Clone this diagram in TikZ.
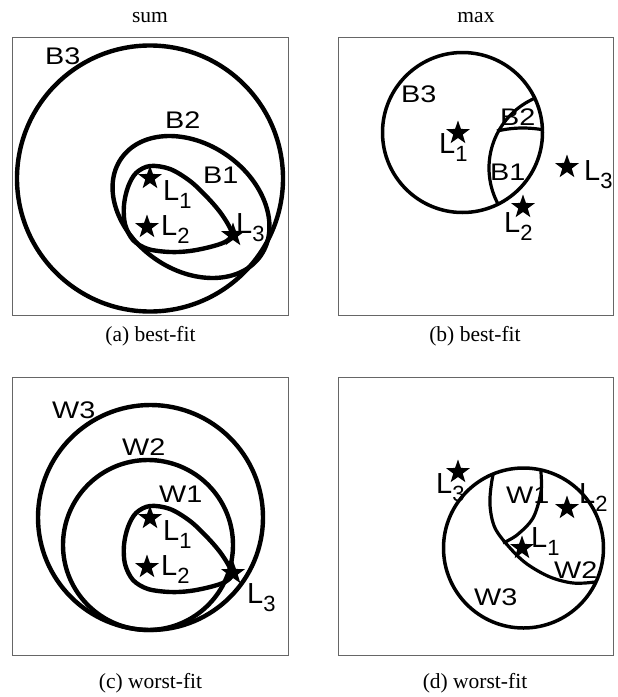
\documentclass[tikz,border=0pt]{standalone}
\usepackage{fontspec}
\setmainfont{Liberation Serif}
\newfontfamily\labfont[FakeStretch=1.2]{Liberation Sans}
\newfontfamily\Lfont{Liberation Sans}
\usetikzlibrary{shapes.geometric}
\newcommand{\Lsub}[1]{{\Lfont\fontsize{29}{29}\selectfont L}\raisebox{-8pt}{\Lfont\fontsize{22}{22}\selectfont #1}}
\tikzset{
 frame/.style={draw=black!60, line width=1pt},
 ring/.style={line width=4.4pt},
 thinring/.style={line width=3.5pt},
 starmark/.style={star, star points=5, star point ratio=2.5, fill=black, inner sep=0pt, minimum size=25pt, draw=none},
 lab/.style={anchor=base west, inner sep=0pt, font=\labfont\fontsize{24}{24}\selectfont},
 llab/.style={anchor=base west, inner sep=0pt},
 captxt/.style={anchor=base, inner sep=0pt, font=\fontsize{21.5}{21.5}\selectfont},
}
\begin{document}
\begin{tikzpicture}[x=1pt, y=-1pt]
\useasboundingbox (0,0) rectangle (618,697);
% titles
\node[captxt] (tsum) at (150,22) {sum};
\node[captxt] (tmax) at (476,22) {max};
% ---------- panel a
\draw[frame] (12,37) rectangle (288,315);
\draw[ring] (150,178.5) circle[radius=133pt];
\draw[ring] (191,207) circle[x radius=85pt, y radius=63pt, rotate=-35];
\draw[ring] plot[smooth cycle, tension=0.55] coordinates {(229,226) (232,235) (225,242) (210,247) (190,251) (170,252) (148,249) (133,240) (125,224) (124,205) (128,187) (136,173) (150,166) (170,169) (190,181) (207,197) (220,212)};
\node[starmark] (a1) at (150,178) {};
\node[starmark] (a2) at (147,227) {};
\node[starmark] (a3) at (233,235) {};
\node[llab] (al1) at (163,200) {\Lsub{1}};
\node[llab] (al2) at (161,235) {\Lsub{2}};
\node[llab] (al3) at (236,233) {\Lsub{3}};
\node[lab] (ab1) at (203,183) {B1};
\node[lab] (ab2) at (165,128) {B2};
\node[lab] (ab3) at (45,64) {B3};
\node[captxt] (capa) at (150.5,341) {(a) best-fit};
% ---------- panel b
\draw[frame] (338,37) rectangle (613,315);
\draw[thinring] (462.5,132.5) circle[radius=80pt];
\begin{scope}
\clip (462.5,132.5) circle[radius=80pt];
\draw[line width=3.2pt] (565,168) circle[radius=76pt];
\draw[line width=3.2pt] (497,131) .. controls (515,127) and (530,127) .. (550,131);
\end{scope}
\node[starmark] (b1) at (458,133) {};
\node[starmark] (b2) at (523,207) {};
\node[starmark] (b3) at (567,167) {};
\node[llab] (bl1) at (439,153) {\Lsub{1}};
\node[llab] (bl2) at (504,232) {\Lsub{2}};
\node[llab] (bl3) at (584,180) {\Lsub{3}};
\node[lab] (bb3) at (401,102) {B3};
\node[lab] (bb2) at (500,125) {B2};
\node[lab] (bb1) at (490,180) {B1};
\node[captxt] (capb) at (475,341) {(b) best-fit};
% ---------- panel c
\draw[frame] (12,377) rectangle (288,655);
\draw[ring] (150.5,517.5) circle[radius=112.5pt];
\draw[ring] (148,545) circle[radius=85pt];
\begin{scope}[shift={(0,340)}]
\draw[ring] plot[smooth cycle, tension=0.55] coordinates {(229,226) (232,235) (225,242) (210,247) (190,251) (170,252) (148,249) (133,240) (125,224) (124,205) (128,187) (136,173) (150,166) (170,169) (190,181) (207,197) (220,212)};
\end{scope}
\node[starmark] (c1) at (150,518) {};
\node[starmark] (c2) at (147,567) {};
\node[starmark] (c3) at (233,573) {};
\node[llab] (cl1) at (163,540) {\Lsub{1}};
\node[llab] (cl2) at (161,575) {\Lsub{2}};
\node[llab] (cl3) at (247,603) {\Lsub{3}};
\node[lab] (cw3) at (52,418) {W3};
\node[lab] (cw2) at (122,455) {W2};
\node[lab] (cw1) at (159,502) {W1};
\node[captxt] (capc) at (150.5,688) {(c) worst-fit};
% ---------- panel d
\draw[frame] (338,377) rectangle (613,655);
\draw[thinring] (523.5,548) circle[radius=80pt];
\begin{scope}
\clip (523.5,548) circle[radius=80pt];
\draw[line width=3.2pt] plot[smooth, tension=0.55] coordinates {(498,455) (492,480) (490,505) (495,528) (510,548) (527,564) (550,577) (573,583) (595,582) (615,578)};
\draw[line width=3.2pt] plot[smooth, tension=0.55] coordinates {(540,455) (541,472) (541,492) (533,518) (517,535) (503,543)};
\end{scope}
\node[starmark] (d1) at (522,548) {};
\node[starmark] (d2) at (567,508) {};
\node[starmark] (d3) at (458,472) {};
\node[llab] (dl1) at (531,547) {\Lsub{1}};
\node[llab] (dl2) at (579,503) {\Lsub{2}};
\node[llab] (dl3) at (436,493) {\Lsub{3}};
\node[lab] (dw1) at (506,503) {W1};
\node[lab] (dw2) at (554,578) {W2};
\node[lab] (dw3) at (474,605) {W3};
\node[captxt] (capd) at (475,688) {(d) worst-fit};
\end{tikzpicture}
\end{document}
